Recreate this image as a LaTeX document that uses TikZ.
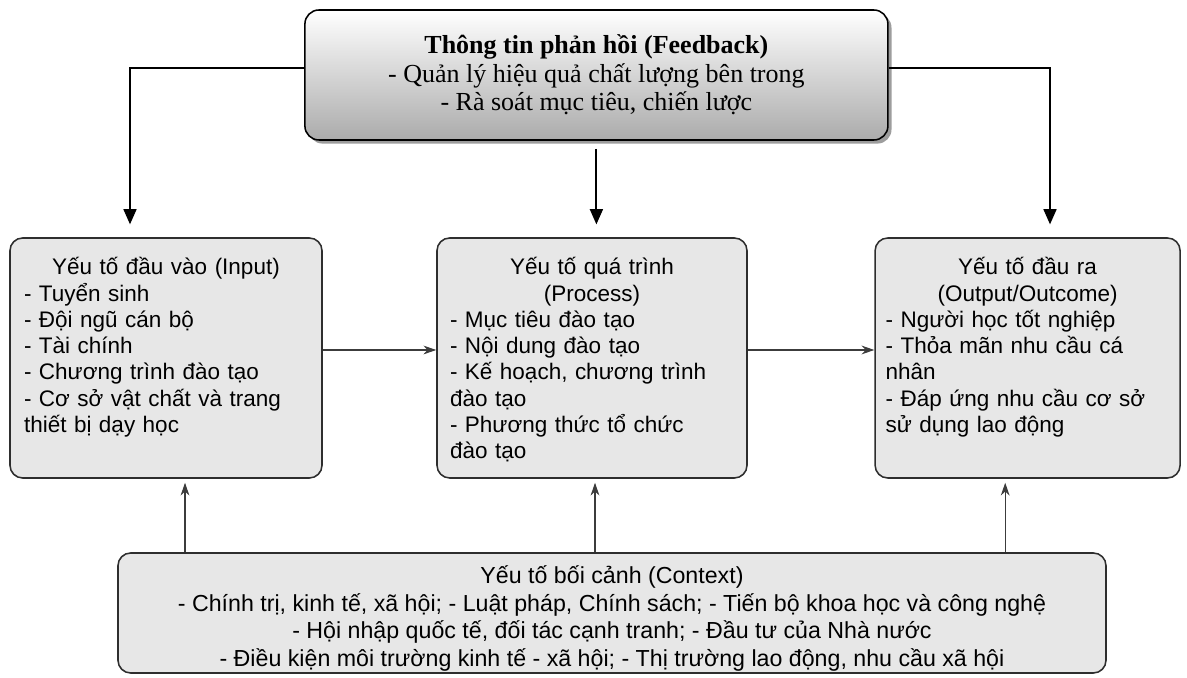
\documentclass[tikz,border=0pt]{standalone}
\usepackage{fontspec}
\setmainfont{Liberation Serif}
\setsansfont{Liberation Sans}
\usetikzlibrary{arrows.meta, positioning, shadows}
\definecolor{cippBox}{HTML}{E7E7E7}
\definecolor{cippLine}{HTML}{2E2E2E}
\definecolor{cippThin}{HTML}{3C3C3C}
\definecolor{cippShade}{HTML}{ABABAB}
\tikzset{
  cippfig/.style={
    every node/.append style={font=\sffamily},
  },
  factorbox/.style={
    draw=cippLine, line width=1.1pt, fill=cippBox, rounded corners=9pt,
    minimum width=#1, minimum height=6cm, inner sep=0pt,
  },
  boxtext/.style={
    anchor=north, inner sep=0pt, text width=7.1cm,
    font=\sffamily\fontsize{16}{18.7}\selectfont,
  },
  feedbackbox/.style={
    draw=black, line width=1.1pt, rounded corners=10pt,
    top color=white, bottom color=cippShade,
    drop shadow={shadow xshift=0.09cm, shadow yshift=-0.09cm, fill=black!55, opacity=0.7},
    minimum width=14.575cm, minimum height=3.25cm, align=center,
    font=\rmfamily\fontsize{18.5}{20.3}\selectfont,
  },
  contextbox/.style={
    draw=cippLine, line width=1.1pt, fill=cippBox, rounded corners=9pt,
    minimum width=24.7cm, minimum height=3cm, inner ysep=1pt, align=center,
    font=\sffamily\fontsize{16.5}{19.5}\selectfont,
  },
  % Rueckfuehrung: dicke schwarze Pfeile
  fbarrow/.style={draw=black, line width=1.5pt, -{Triangle[length=0.38cm, width=0.32cm]}},
  flowarrow/.style={draw=cippThin, line width=0.8pt, -{Stealth[length=0.32cm, width=0.22cm]}},
}
\begin{document}
\begin{tikzpicture}[cippfig]
  \useasboundingbox (0,0) rectangle (29.675,16.95);
  \node[feedbackbox] (Feedback) at (14.91,15.075) {\textbf{Thông tin phản hồi (Feedback)}\\- Quản lý hiệu quả chất lượng bên trong\\- Rà soát mục tiêu, chiến lược};
  \node[factorbox=7.8cm] (Input) at (4.15,8.0) {};
  \node[factorbox=7.75cm] (Process) at (14.8,8.0) {};
  \node[factorbox=7.625cm] (Output) at (25.69,8.0) {};
  \node[contextbox] (Context) at (15.3,1.625) {\rule{0pt}{0.72cm}Yếu tố bối cảnh (Context)\\- Chính trị, kinh tế, xã hội; - Luật pháp, Chính sách; - Tiến bộ khoa học và công nghệ\\- Hội nhập quốc tế, đối tác cạnh tranh; - Đầu tư của Nhà nước\\- Điều kiện môi trường kinh tế - xã hội; - Thị trường lao động, nhu cầu xã hội};
  \node[boxtext] (InputText) at ([yshift=-0.5cm]Input.north) {{\centering Yếu tố đầu vào (Input)\par}- Tuyển sinh\\- Đội ngũ cán bộ\\- Tài chính\\- Chương trình đào tạo\\- Cơ sở vật chất và trang\\thiết bị dạy học};
  \node[boxtext] (ProcessText) at ([yshift=-0.5cm]Process.north) {{\centering Yếu tố quá trình\\(Process)\par}- Mục tiêu đào tạo\\- Nội dung đào tạo\\- Kế hoạch, chương trình\\đào tạo\\- Phương thức tổ chức\\đào tạo};
  \node[boxtext] (OutputText) at ([yshift=-0.5cm]Output.north) {{\centering Yếu tố đầu ra\\(Output/Outcome)\par}- Người học tốt nghiệp\\- Thỏa mãn nhu cầu cá\\nhân\\- Đáp ứng nhu cầu cơ sở\\sử dụng lao động};
  \draw[fbarrow] ([yshift=0.17cm]Feedback.west) -| ([xshift=-0.9cm, yshift=0.32cm]Input.north);
  \draw[fbarrow] ([yshift=-0.2cm]Feedback.south) -- ([yshift=0.32cm]Feedback.south |- Process.north);
  \draw[fbarrow] ([yshift=0.17cm]Feedback.east) -| ([xshift=0.56cm, yshift=0.32cm]Output.north);
  \draw[flowarrow] ([yshift=0.2cm]Input.east) -- ([yshift=0.2cm]Process.west);
  \draw[flowarrow] ([yshift=0.2cm]Process.east) -- ([yshift=0.2cm]Output.west);
  \draw[flowarrow] ([xshift=0.475cm]Input.south |- Context.north) -- ([xshift=0.475cm, yshift=-0.1cm]Input.south);
  \draw[flowarrow] ([xshift=0.075cm]Process.south |- Context.north) -- ([xshift=0.075cm, yshift=-0.1cm]Process.south);
  \draw[flowarrow] ([xshift=-0.56cm]Output.south |- Context.north) -- ([xshift=-0.56cm, yshift=-0.1cm]Output.south);
\end{tikzpicture}
\end{document}
